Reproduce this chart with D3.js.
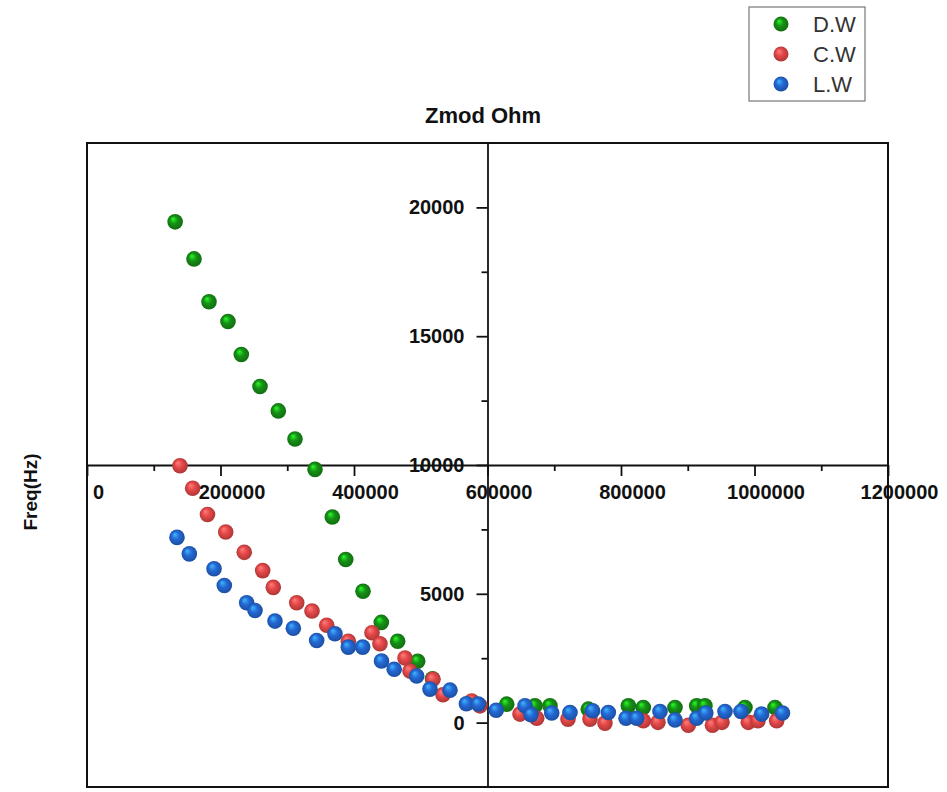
<!DOCTYPE html>
<html>
<head>
<meta charset="utf-8">
<script src="https://cdn.jsdelivr.net/npm/d3@7"></script>
<style>
  body { margin: 0; background: #fff; }
  svg { font-family: "Liberation Sans", Arial, sans-serif; }
</style>
</head>
<body>
<div class="graphic"></div>
<script>
// values
const dwZ = [132000,160300,182800,211200,231200,259200,286600,311600,341600,367500,387600,413500,440900,465400,495400,517600,628800,671100,693600,751000,811000,833400,880900,913400,925800,985700,1030700];
const dwF = [19440,18000,16340,15570,14290,13050,12100,11010,9830,7980,6330,5100,3890,3160,2380,1700,716,650,650,522,650,588,588,650,650,588,588];

const cwZ = [139300,158300,180500,207800,235600,263200,279100,314200,337100,359100,391500,427000,438900,476400,483900,518300,533300,576300,588700,648700,673700,720600,753500,776000,833400,855400,900800,937000,951300,990700,1005200,1033200];
const cwF = [9970,9100,8080,7400,6610,5900,5250,4650,4330,3780,3160,3490,3060,2510,2000,1680,1080,840,650,330,170,135,135,-20,70,10,-100,-100,10,10,70,70];

const lwZ = [134800,153300,190300,205700,239200,251700,281600,309100,344100,371500,391500,413000,441200,460200,493900,513800,543800,568400,586200,613000,656200,665200,696200,723600,757300,781000,807500,823500,858400,880900,913400,927000,955800,979700,1010700,1041900];
const lwF = [7190,6550,5970,5320,4650,4350,3940,3660,3190,3450,2930,2930,2390,2070,1810,1300,1260,730,720,480,650,310,370,390,460,390,170,170,430,100,170,370,430,430,330,370];

const seriesNames = ["D.W", "C.W", "L.W"];
const seriesColors = ["#169016", "#e54848", "#2468d4"];

const xTicks = [0, 200000, 400000, 600000, 800000, 1000000, 1200000];
const xMinor = [100000, 300000, 500000, 700000, 900000, 1100000];
const yTicks = [0, 5000, 10000, 15000, 20000];
const yMinor = [2500, 7500, 12500, 17500];

const W = 947, H = 792;
const svg = d3.select(".graphic")
  .append("svg")
  .attr("width", W)
  .attr("height", H);

const plotL = 87, plotR = 888, plotT = 143, plotB = 787;

const x = d3.scaleLinear().domain([0, 1200000]).range([plotL, plotR]);
const y = d3.scaleLinear().domain([-2500, 22500]).range([plotB, plotT]);

// sphere gradients
const defs = svg.append("defs");
seriesColors.forEach((c, i) => {
  const g = defs.append("radialGradient")
    .attr("id", "ball" + i)
    .attr("cx", "50%").attr("cy", "50%").attr("r", "55%")
    .attr("fx", "35%").attr("fy", "30%");
  g.append("stop").attr("offset", "0%").attr("stop-color", d3.color(c).brighter(1.6));
  g.append("stop").attr("offset", "45%").attr("stop-color", c);
  g.append("stop").attr("offset", "100%").attr("stop-color", d3.color(c).darker(0.9));
});

// frame
svg.append("rect")
  .attr("x", plotL).attr("y", plotT)
  .attr("width", plotR - plotL).attr("height", plotB - plotT)
  .attr("fill", "none").attr("stroke", "#111").attr("stroke-width", 2);

// x axis crossing at 10000
const xAxisG = svg.append("g")
  .attr("transform", `translate(0,${y(10000)})`)
  .call(d3.axisBottom(x).tickValues(xTicks).tickSize(11).tickSizeOuter(0).tickFormat(d3.format("d")));
svg.append("g")
  .attr("transform", `translate(0,${y(10000)})`)
  .call(d3.axisBottom(x).tickValues(xMinor).tickSize(6).tickSizeOuter(0).tickFormat(""))
  .call(g => g.select(".domain").remove());

xAxisG.selectAll("text")
  .attr("x", 11).attr("y", 20).attr("dy", "0.71em")
  .attr("font-size", 20).attr("font-weight", "bold").attr("fill", "#111");

// y axis crossing at 600000
const yAxisG = svg.append("g")
  .attr("transform", `translate(${x(600000)},0)`)
  .call(d3.axisLeft(y).tickValues(yTicks).tickSize(11).tickSizeOuter(0).tickFormat(d3.format("d")));
svg.append("g")
  .attr("transform", `translate(${x(600000)},0)`)
  .call(d3.axisLeft(y).tickValues(yMinor).tickSize(6).tickSizeOuter(0).tickFormat(""))
  .call(g => g.select(".domain").remove());

yAxisG.selectAll("text")
  .attr("x", -23)
  .attr("font-size", 20).attr("font-weight", "bold").attr("fill", "#111");

svg.selectAll(".domain").attr("stroke", "#111").attr("stroke-width", 1.8);
svg.selectAll(".tick line").attr("stroke", "#111").attr("stroke-width", 1.8);

// axis titles
svg.append("text")
  .attr("x", 483).attr("y", 123)
  .attr("text-anchor", "middle")
  .attr("font-size", 22).attr("font-weight", "bold").attr("fill", "#111")
  .text("Zmod Ohm");

svg.append("text")
  .attr("transform", "translate(37,492) rotate(-90)")
  .attr("text-anchor", "middle")
  .attr("font-size", 19).attr("font-weight", "bold").attr("fill", "#111")
  .text("Freq(Hz)");

// points
const series = [
  dwZ.map((z, i) => ({ z, f: dwF[i] })),
  cwZ.map((z, i) => ({ z, f: cwF[i] })),
  lwZ.map((z, i) => ({ z, f: lwF[i] }))
];

series.forEach((pts, i) => {
  svg.append("g")
    .selectAll("circle")
    .data(pts)
    .join("circle")
      .attr("cx", d => x(d.z))
      .attr("cy", d => y(d.f))
      .attr("r", 7.8)
      .attr("fill", `url(#ball${i})`);
});

// legend
const legend = svg.append("g");
legend.append("rect")
  .attr("x", 749).attr("y", 7).attr("width", 116).attr("height", 94)
  .attr("fill", "#fff").attr("stroke", "#777").attr("stroke-width", 1.2);

seriesNames.forEach((name, i) => {
  const cy = 24 + i * 30;
  legend.append("circle")
    .attr("cx", 781).attr("cy", cy).attr("r", 7.5)
    .attr("fill", `url(#ball${i})`);
  legend.append("text")
    .attr("x", 813).attr("y", cy + 8)
    .attr("font-size", 22).attr("fill", "#333")
    .text(name);
});
</script>
</body>
</html>
